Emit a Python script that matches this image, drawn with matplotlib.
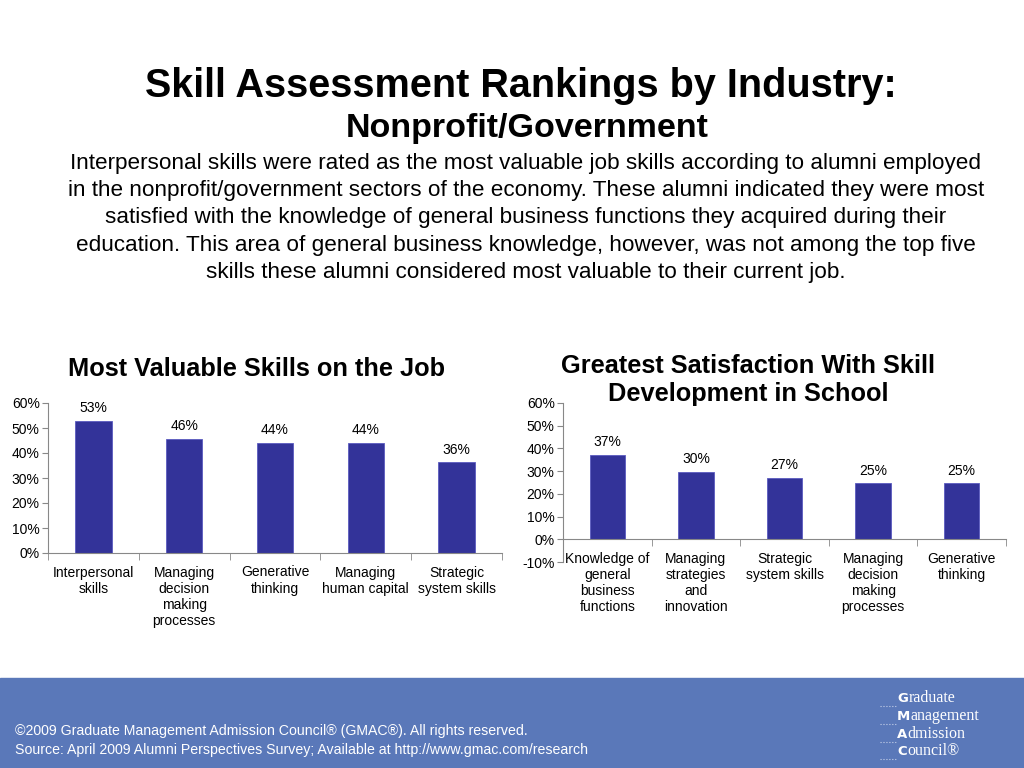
import matplotlib.pyplot as plt
import matplotlib.patches as mpatches
import numpy as np

plt.rcParams['font.family'] = ['Liberation Sans', 'DejaVu Sans']

# data
left_cats = ["Interpersonal\nskills", "Managing\ndecision\nmaking\nprocesses", "Generative\nthinking",
             "Managing\nhuman capital", "Strategic\nsystem skills"]
left_vals = [52.7, 45.5, 44.0, 44.0, 36.3]
left_labels = ["53%", "46%", "44%", "44%", "36%"]

right_cats = ["Knowledge of\ngeneral\nbusiness\nfunctions", "Managing\nstrategies\nand\ninnovation",
              "Strategic\nsystem skills", "Managing\ndecision\nmaking\nprocesses", "Generative\nthinking"]
right_vals = [37.3, 29.8, 27.2, 24.6, 24.6]
right_labels = ["37%", "30%", "27%", "25%", "25%"]

bar_color = "#333399"
band_color = "#5A78B9"

fig = plt.figure(figsize=(10.24, 7.68), dpi=100)

def px(x, y, w, h):
    return [x / 1024, (768 - y - h) / 768, w / 1024, h / 768]

fig.text(521 / 1024, 1 - 86 / 768, "Skill Assessment Rankings by Industry:", ha="center", va="center",
         fontsize=28.5, fontweight="bold")
fig.text(527 / 1024, 1 - 129 / 768, "Nonprofit/Government", ha="center", va="center",
         fontsize=24.5, fontweight="bold")
para = ("Interpersonal skills were rated as the most valuable job skills according to alumni employed\n"
        "in the nonprofit/government sectors of the economy. These alumni indicated they were most\n"
        "satisfied with the knowledge of general business functions they acquired during their\n"
        "education. This area of general business knowledge, however, was not among the top five\n"
        "skills these alumni considered most valuable to their current job.")
fig.text(526 / 1024, 1 - 218 / 768, para, ha="center", va="center", fontsize=16.2, linespacing=1.40)


def draw(ax, cats, vals, labels, ymin, pad):
    x = np.arange(len(cats))
    ax.bar(x, vals, width=0.4, color=bar_color, edgecolor="#5b5bc0", linewidth=0.6, zorder=2)
    for xi, v, lab in zip(x, vals, labels):
        ax.text(xi, v + 2.3, lab, ha="center", va="bottom", fontsize=10)
    ax.set_xlim(-0.5, len(cats) - 0.5)
    ax.set_ylim(ymin, 60)
    ax.set_yticks(np.arange(ymin, 61, 10))
    ax.set_yticklabels([f"{int(t)}%" for t in np.arange(ymin, 61, 10)], fontsize=10)
    ax.set_xticks(x)
    ax.set_xticklabels(cats, fontsize=10, linespacing=1.1, va="top")
    ax.set_xticks(np.arange(-0.5, len(cats)), minor=True)
    ax.tick_params(axis="x", which="major", length=0, pad=pad)
    ax.tick_params(axis="x", which="minor", length=5, color="#888888")
    ax.tick_params(axis="y", length=4, color="#888888", pad=2)
    ax.spines["top"].set_visible(False)
    ax.spines["right"].set_visible(False)
    ax.spines["left"].set_color("#888888")
    ax.spines["bottom"].set_color("#888888")
    ax.spines["bottom"].set_position(("data", 0))
    ax.set_facecolor("none")


ax1 = fig.add_axes(px(48, 403, 454, 150))
draw(ax1, left_cats, left_vals, left_labels, 0, 9)
fig.text(256 / 1024, 1 - 369 / 768, "Most Valuable Skills on the Job", ha="center", va="center",
         fontsize=18.3, fontweight="bold")

ax2 = fig.add_axes(px(563, 403, 443, 159))
draw(ax2, right_cats, right_vals, right_labels, -10, 9)
fig.text(748 / 1024, 1 - 380 / 768, "Greatest Satisfaction With Skill\nDevelopment in School", ha="center",
         va="center", fontsize=18.3, fontweight="bold", linespacing=1.22)

# footer band
fig.patches.append(mpatches.Rectangle((0, 0), 1, 90 / 768, transform=fig.transFigure,
                                      color=band_color, zorder=0))
fig.text(15 / 1024, 1 - 731 / 768, "\u00a92009 Graduate Management Admission Council\u00ae (GMAC\u00ae). All rights reserved.",
         color="white", fontsize=10.2, va="center")
fig.text(15 / 1024, 1 - 750 / 768, "Source: April 2009 Alumni Perspectives Survey; Available at http://www.gmac.com/research",
         color="white", fontsize=10.2, va="center")

# logo
renderer = fig.canvas.get_renderer()
logo = [("G", "raduate", 697), ("M", "anagement", 715), ("A", "dmission", 733), ("C", "ouncil\u00ae", 750)]
for first, rest, y in logo:
    t = fig.text(897 / 1024, 1 - (y + 5) / 768, first, color="white", fontsize=9.5, fontweight="bold",
                 va="baseline", family="DejaVu Sans")
    x_end = t.get_window_extent(renderer).x1 / 1024
    fig.text(x_end + 0.5 / 1024, 1 - (y + 5) / 768, rest, color="white", fontsize=11.5, va="baseline",
             family="Liberation Serif")
    fig.lines.append(plt.Line2D([880 / 1024, 897 / 1024], [1 - (y + 9) / 768] * 2,
                                transform=fig.transFigure, color="#c8d2ea", lw=0.8, ls=":"))

fig.savefig("out.png", dpi=100)
